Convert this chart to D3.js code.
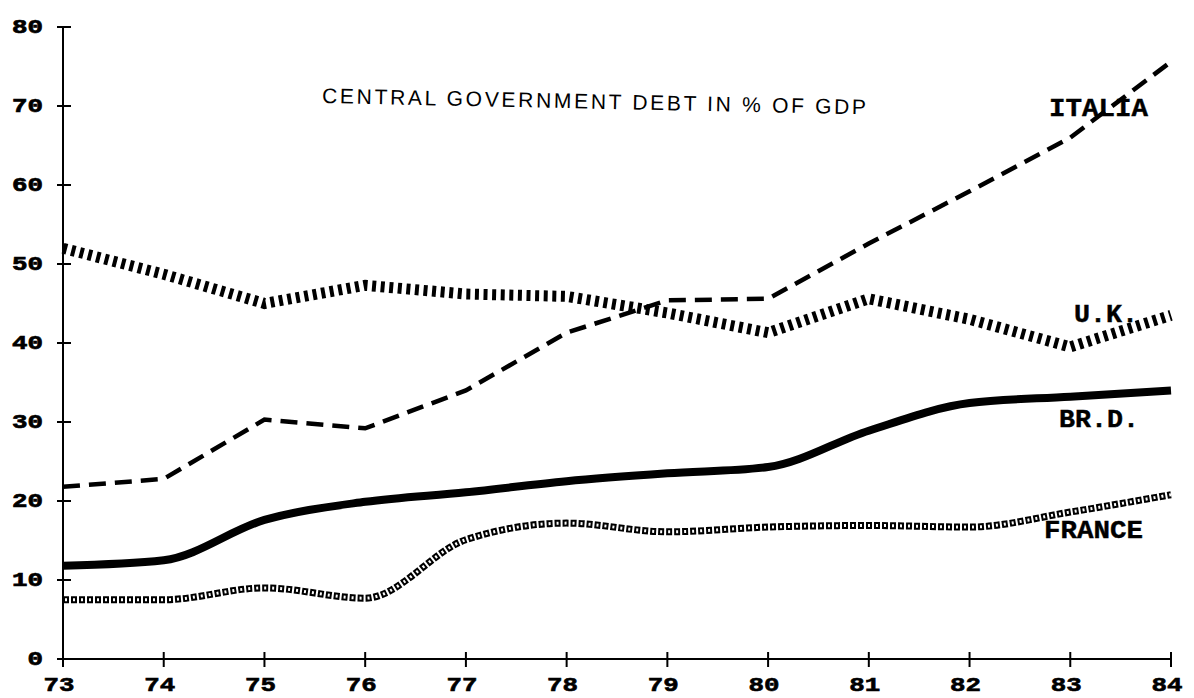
<!DOCTYPE html>
<html>
<head>
<meta charset="utf-8">
<script src="https://cdn.jsdelivr.net/npm/d3@7"></script>
<style>
  html, body { margin: 0; padding: 0; background: #ffffff; }
  svg { display: block; }
</style>
</head>
<body>
<svg id="chart" width="1194" height="698"></svg>
<script>
// ---- data ----
const years   = [73, 74, 75, 76, 77, 78, 79, 80, 81, 82, 83, 84];
const yTicks  = [0, 10, 20, 30, 40, 50, 60, 70, 80];
const italia  = [21.8, 22.8, 30.3, 29.2, 34.0, 41.3, 45.4, 45.6, 52.6, 59.2, 66.0, 75.6];
const uk      = [52.0, 48.7, 45.0, 47.3, 46.2, 45.9, 43.8, 41.3, 45.6, 43.0, 39.5, 43.5];
const brd     = [11.8, 12.5, 17.6, 19.9, 21.1, 22.5, 23.5, 24.3, 28.9, 32.4, 33.2, 34.0];
const france  = [7.5, 7.5, 9.0, 7.7, 15.1, 17.2, 16.1, 16.7, 16.9, 16.7, 18.6, 20.8];
const seriesNames = ["ITALIA", "U.K.", "BR.D.", "FRANCE"];
const titleText = "CENTRAL GOVERNMENT DEBT IN % OF GDP";

// ---- drawing ----
const svg = d3.select("#chart");
const x = d3.scaleLinear().domain([73, 84]).range([63, 1171]);
const y = d3.scaleLinear().domain([0, 80]).range([659, 27]);

const monoFont = "'Liberation Mono', 'DejaVu Sans Mono', monospace";

// axes
const yAxis = d3.axisLeft(y).tickValues(yTicks).tickSize(0).tickFormat("");
const xAxis = d3.axisBottom(x).tickValues(years).tickSize(0).tickFormat("");
svg.append("g").attr("transform", `translate(${x(73)},0)`).call(yAxis)
   .call(g => g.select(".domain").attr("stroke", "#000").attr("stroke-width", 2).attr("d", `M0,${y(80)}V${y(0)}`));
svg.append("g").attr("transform", `translate(0,${y(0)})`).call(xAxis)
   .call(g => g.select(".domain").attr("stroke", "#000").attr("stroke-width", 2).attr("d", `M${x(73)},0H${x(84)}`));

// tick marks crossing the axes
svg.append("g").selectAll("line").data(yTicks).join("line")
  .attr("x1", x(73) - 6).attr("x2", x(73) + 8)
  .attr("y1", d => y(d)).attr("y2", d => y(d))
  .attr("stroke", "#000").attr("stroke-width", 2);
svg.append("g").selectAll("line").data(years).join("line")
  .attr("x1", d => x(d)).attr("x2", d => x(d))
  .attr("y1", y(0) - 7).attr("y2", y(0) + 8)
  .attr("stroke", "#000").attr("stroke-width", 2);

// tick labels
svg.append("g").selectAll("text").data(yTicks).join("text")
  .attr("x", 43).attr("y", d => y(d) + 6)
  .attr("text-anchor", "end")
  .attr("font-family", monoFont).attr("font-weight", "bold").attr("font-size", 20)
  .attr("stroke", "#000").attr("stroke-width", 0.7)
  .attr("textLength", d => String(d).length * 15.5).attr("lengthAdjust", "spacingAndGlyphs")
  .text(d => String(d));
svg.append("g").selectAll("text").data(years).join("text")
  .attr("x", d => x(d) - 4).attr("y", 691)
  .attr("text-anchor", "middle")
  .attr("font-family", monoFont).attr("font-weight", "bold").attr("font-size", 20)
  .attr("stroke", "#000").attr("stroke-width", 0.6)
  .attr("textLength", 31).attr("lengthAdjust", "spacingAndGlyphs")
  .text(d => String(d));

// lines
const linLine = d3.line().x((d, i) => x(years[i])).y(d => y(d));
const smoothLine = d3.line().x((d, i) => x(years[i])).y(d => y(d)).curve(d3.curveMonotoneX);

// ITALIA: stair-like dashes
svg.append("path").datum(italia).attr("d", linLine)
  .attr("fill", "none").attr("stroke", "#000").attr("stroke-width", 4.5)
  .attr("stroke-dasharray", "17,9");

// U.K.: vertical bar dots
svg.append("path").datum(uk).attr("d", linLine)
  .attr("fill", "none").attr("stroke", "#000").attr("stroke-width", 11)
  .attr("stroke-dasharray", "4,4.6");

// BR.D.: heavy solid
svg.append("path").datum(brd).attr("d", smoothLine)
  .attr("fill", "none").attr("stroke", "#000").attr("stroke-width", 8);

// FRANCE: chain of small rings
svg.append("path").datum(france).attr("d", smoothLine)
  .attr("fill", "none").attr("stroke", "#000").attr("stroke-width", 7)
  .attr("stroke-dasharray", "6,2");
svg.append("path").datum(france).attr("d", smoothLine)
  .attr("fill", "none").attr("stroke", "#fff").attr("stroke-width", 3)
  .attr("stroke-dasharray", "2,6").attr("stroke-dashoffset", -2);

// series labels
const labelPos = [
  { name: seriesNames[0], x: 1049, y: 116, w: 99 },
  { name: seriesNames[1], x: 1074, y: 322, w: 64 },
  { name: seriesNames[2], x: 1059, y: 427, w: 80 },
  { name: seriesNames[3], x: 1044, y: 538, w: 99 }
];
svg.append("g").selectAll("text").data(labelPos).join("text")
  .attr("x", d => d.x).attr("y", d => d.y)
  .attr("font-family", monoFont).attr("font-weight", "bold").attr("font-size", 25)
  .attr("stroke", "#000").attr("stroke-width", 0.4)
  .attr("textLength", d => d.w).attr("lengthAdjust", "spacingAndGlyphs")
  .text(d => d.name);

// title
svg.append("text")
  .attr("x", 322).attr("y", 103)
  .attr("font-family", "'Liberation Sans', Arial, sans-serif").attr("font-size", 21)
  .attr("textLength", 544).attr("lengthAdjust", "spacing")
  .attr("transform", "rotate(1.2, 322, 103)")
  .text(titleText);
</script>
</body>
</html>
